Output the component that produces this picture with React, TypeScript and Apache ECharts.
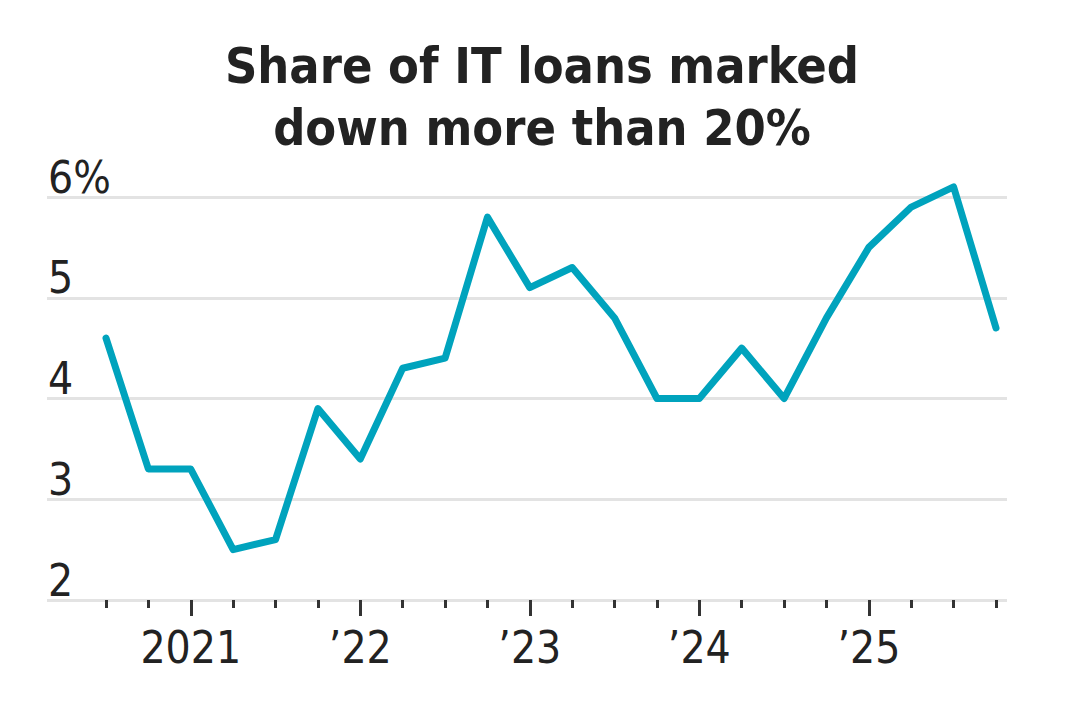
import React, { useEffect, useRef } from "react";
import * as echarts from "echarts";

const quarters = [
  "2020 Q3", "2020 Q4",
  "2021 Q1", "2021 Q2", "2021 Q3", "2021 Q4",
  "2022 Q1", "2022 Q2", "2022 Q3", "2022 Q4",
  "2023 Q1", "2023 Q2", "2023 Q3", "2023 Q4",
  "2024 Q1", "2024 Q2", "2024 Q3", "2024 Q4",
  "2025 Q1", "2025 Q2", "2025 Q3", "2025 Q4",
];
const shareValues = [
  4.6, 3.3, 3.3, 2.5, 2.6, 3.9, 3.4, 4.3, 4.4, 5.8, 5.1,
  5.3, 4.8, 4.0, 4.0, 4.5, 4.0, 4.8, 5.5, 5.9, 6.1, 4.7,
];
const yearTickLabels: Record<string, string> = {
  "2021 Q1": "2021",
  "2022 Q1": "\u201922",
  "2023 Q1": "\u201923",
  "2024 Q1": "\u201924",
  "2025 Q1": "\u201925",
};
const yTicks = [2, 3, 4, 5, 6];
const titleText = "Share of IT loans marked\ndown more than 20%";

const FONT = "'DejaVu Sans Condensed', 'Liberation Sans Narrow', sans-serif";

export default function App() {
  const ref = useRef<HTMLDivElement>(null);
  useEffect(() => {
    document.body.style.margin = "0";
    if (!ref.current) return;
    const chart = echarts.init(ref.current, null, { renderer: "svg" });
    const isYear = (i: number) => !!yearTickLabels[quarters[i]];
    chart.setOption({
      animation: false,
      backgroundColor: "#ffffff",
      graphic: [
        {
          type: "text",
          x: 542,
          y: 35,
          style: {
            text: titleText,
            fill: "#222222",
            fontFamily: FONT,
            fontWeight: "bold",
            fontSize: 50,
            lineHeight: 62,
            align: "center",
            verticalAlign: "top",
          },
        },
      ],
      grid: [
        { left: 47, right: 61, top: 197, bottom: 113 },
        { left: 106, right: 72, top: 197, bottom: 113 },
      ],
      xAxis: [
        { gridIndex: 0, type: "value", show: false, min: 0, max: 1 },
        {
          gridIndex: 1,
          type: "category",
          position: "bottom",
          data: quarters,
          boundaryGap: false,
          axisLine: { show: false },
          axisTick: {
            show: true,
            interval: 0,
            length: 8,
            lineStyle: { color: "#333333", width: 3 },
          },
          axisLabel: { show: false },
          splitLine: { show: false },
        },
        {
          gridIndex: 1,
          type: "category",
          position: "bottom",
          data: quarters,
          boundaryGap: false,
          axisLine: { show: false },
          axisTick: {
            show: true,
            interval: (i: number) => isYear(i),
            length: 16,
            lineStyle: { color: "#333333", width: 3 },
          },
          axisLabel: {
            show: true,
            interval: (i: number) => isYear(i),
            formatter: (v: string) => yearTickLabels[v] || "",
            color: "#222222",
            fontFamily: FONT,
            fontSize: 44,
            margin: 25,
          },
          splitLine: { show: false },
        },
      ],
      yAxis: [
        {
          gridIndex: 0,
          type: "value",
          min: yTicks[0],
          max: yTicks[yTicks.length - 1],
          interval: 1,
          axisLine: { show: false },
          axisTick: { show: false },
          splitLine: {
            show: true,
            showMinLine: true,
            showMaxLine: true,
            lineStyle: { color: "#e3e3e3", width: 3 },
          },
          axisLabel: {
            inside: true,
            margin: 1,
            color: "#222222",
            fontFamily: FONT,
            fontSize: 44,
            verticalAlign: "bottom",
            lineHeight: 40,
            formatter: (v: number) => (v === 6 ? "6%" : String(v)),
          },
        },
        {
          gridIndex: 1,
          type: "value",
          min: yTicks[0],
          max: yTicks[yTicks.length - 1],
          show: false,
          splitLine: { show: false },
        },
      ],
      series: [
        {
          type: "line",
          xAxisIndex: 1,
          yAxisIndex: 1,
          data: shareValues,
          showSymbol: false,
          symbol: "none",
          clip: false,
          lineStyle: { color: "#00a3bd", width: 7, cap: "round", join: "round" },
          z: 5,
        },
      ],
    });
    return () => chart.dispose();
  }, []);
  return <div ref={ref} style={{ width: 1068, height: 713 }} />;
}
